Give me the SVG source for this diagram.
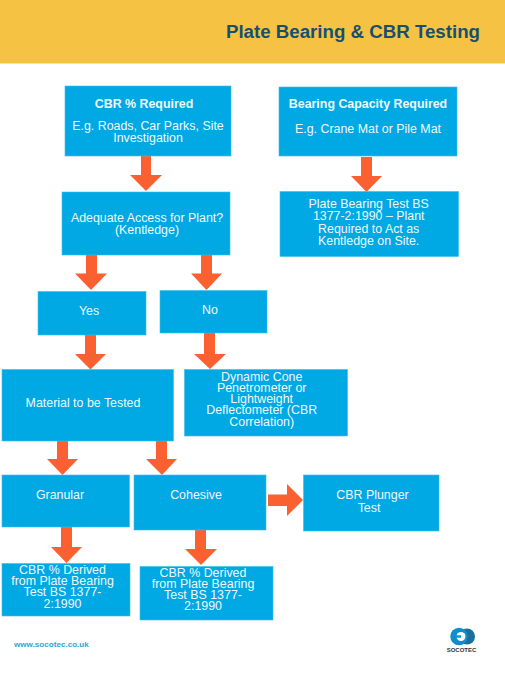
<svg xmlns="http://www.w3.org/2000/svg" width="505" height="676" viewBox="0 0 505 676">
<style>
text{font-family:"Liberation Sans",Arial,sans-serif}
.b{fill:#00a8e4;stroke:#3cbcea;stroke-width:.6}
.t{fill:#f0f9fd;font-size:12.4px;text-anchor:middle}
.h{font-weight:bold}
.a{fill:#fb6130}
</style>
<rect width="505" height="676" fill="#ffffff"/>
<rect id="banner" width="505" height="63.5" fill="#f6c244"/>
<text id="title" x="480" y="37.500" text-anchor="end" font-size="18.700" font-weight="bold" fill="#17506f">Plate Bearing &amp; CBR Testing</text>
<g id="connectors">
<polygon class="a" points="141,156 151,156 151,175 162,175 146,191 130,175 141,175"/>
<polygon class="a" points="361,157 372,157 372,176 382,176 366.5,192 351,176 361,176"/>
<polygon class="a" points="86,255 97,255 97,273.5 107,273.5 91,290 75,273.5 86,273.5"/>
<polygon class="a" points="201,255 212,255 212,273.5 222,273.5 206.5,290 191,273.5 201,273.5"/>
<polygon class="a" points="85,335 96,335 96,354 106,354 90.5,369.5 75,354 85,354"/>
<polygon class="a" points="204,333 215,333 215,354 226,354 210,369 194,354 204,354"/>
<polygon class="a" points="57,441 68,441 68,459 78,459 62.5,475 47,459 57,459"/>
<polygon class="a" points="156,441 167,441 167,459 177,459 162,475 146,459 156,459"/>
<polygon class="a" points="61,527 72,527 72,547 82,547 66.5,563 51,547 61,547"/>
<polygon class="a" points="195,530 206,530 206,549 217,549 201,565 185,549 195,549"/>
<polygon class="a" points="268,494.5 287,494.5 287,484 303,500 287,516 287,506 268,506"/>
</g>
<g id="n-cbr-required">
<rect class="b" x="65" y="86" width="166" height="70"/>
<text class="t h" x="144" y="108">CBR % Required</text>
<text class="t" x="148" y="129.500">E.g. Roads, Car Parks, Site</text>
<text class="t" x="148" y="141.500">Investigation</text>
</g>
<g id="n-bearing-capacity">
<rect class="b" x="279" y="87" width="178" height="69"/>
<text class="t h" x="368" y="108">Bearing Capacity Required</text>
<text class="t" x="368" y="133">E.g. Crane Mat or Pile Mat</text>
</g>
<g id="n-plate-bearing">
<rect class="b" x="280" y="191.500" width="178.500" height="65"/>
<text class="t" x="368.700" y="208">Plate Bearing Test BS</text>
<text class="t" x="368.700" y="220">1377-2:1990 – Plant</text>
<text class="t" x="368.700" y="232.700">Required to Act as</text>
<text class="t" x="368.700" y="245">Kentledge on Site.</text>
</g>
<g id="n-access">
<rect class="b" x="62" y="192" width="168" height="63"/>
<text class="t" x="147" y="221.700">Adequate Access for Plant?</text>
<text class="t" x="147" y="234">(Kentledge)</text>
</g>
<g id="n-yes">
<rect class="b" x="38" y="291.500" width="108" height="43.500"/>
<text class="t" x="89" y="315">Yes</text>
</g>
<g id="n-no">
<rect class="b" x="160" y="290.500" width="107" height="42.500"/>
<text class="t" x="210" y="314">No</text>
</g>
<g id="n-material">
<rect class="b" x="2" y="369.500" width="171.500" height="71.500"/>
<text class="t" x="83" y="407">Material to be Tested</text>
</g>
<g id="n-dynamic">
<rect class="b" x="184.500" y="369.500" width="163" height="66.500"/>
<text class="t" x="261.700" y="380.700">Dynamic Cone</text>
<text class="t" x="261.700" y="391.700">Penetrometer or</text>
<text class="t" x="261.700" y="402.700">Lightweight</text>
<text class="t" x="261.700" y="414.300">Deflectometer (CBR</text>
<text class="t" x="261.700" y="425.700">Correlation)</text>
</g>
<g id="n-granular">
<rect class="b" x="2" y="475" width="127.500" height="52"/>
<text class="t" x="60" y="499.300">Granular</text>
</g>
<g id="n-cohesive">
<rect class="b" x="134" y="475" width="132" height="55"/>
<text class="t" x="196" y="499.300">Cohesive</text>
</g>
<g id="n-plunger">
<rect class="b" x="303.500" y="475" width="135.500" height="56"/>
<text class="t" x="372.500" y="499.300">CBR Plunger</text>
<text class="t" x="369" y="511.700">Test</text>
</g>
<g id="n-derived-1">
<rect class="b" x="2" y="563.500" width="128" height="52.500"/>
<text class="t" x="62.500" y="574">CBR % Derived</text>
<text class="t" x="62.500" y="585">from Plate Bearing</text>
<text class="t" x="62.500" y="596">Test BS 1377-</text>
<text class="t" x="62.500" y="607.500">2:1990</text>
</g>
<g id="n-derived-2">
<rect class="b" x="140" y="566.500" width="133" height="53.500"/>
<text class="t" x="203" y="576.500">CBR % Derived</text>
<text class="t" x="203" y="587.500">from Plate Bearing</text>
<text class="t" x="203" y="599">Test BS 1377-</text>
<text class="t" x="203" y="610">2:1990</text>
</g>
<text id="url" x="14" y="647" font-size="8.100" font-weight="bold" fill="#2ba6d6">www.socotec.co.uk</text>
<g id="logo">
<circle cx="467" cy="636.500" r="8" fill="#1b6f9c"/>
<circle cx="459" cy="636.500" r="8.700" fill="#0e8fcb"/>
<circle cx="461" cy="636.500" r="4.500" fill="#ffffff"/>
<rect x="455" y="635.300" width="6" height="2.400" fill="#0e8fcb"/>
<text x="461.500" y="652" font-size="6" font-weight="bold" text-anchor="middle" fill="#333333">SOCOTEC</text>
</g>
</svg>
